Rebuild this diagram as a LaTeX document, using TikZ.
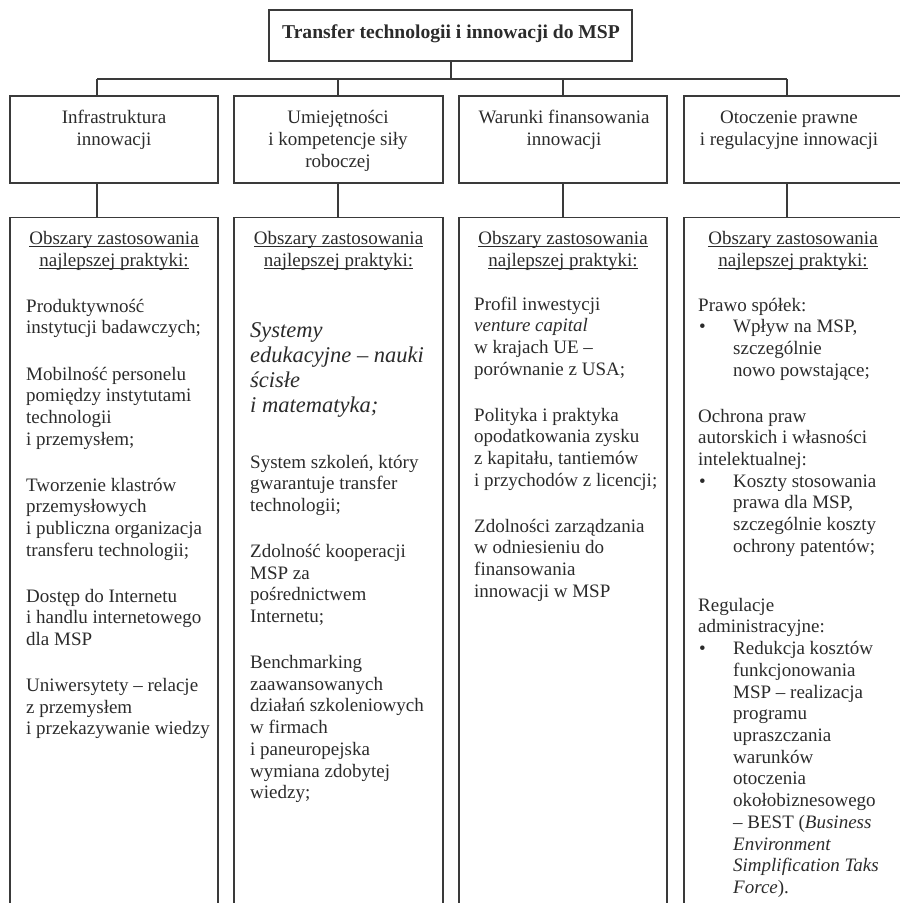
\documentclass[tikz,border=0pt]{standalone}
\usepackage{fontspec}
\setmainfont{Liberation Serif}
\definecolor{ink}{HTML}{2B2B2B}
\definecolor{rulec}{HTML}{3A3A3A}
% underline set just below the baseline, crossing the descenders
\newcommand\ulbase[1]{\setbox0\hbox{#1}\rlap{\rule[-2.6pt]{\wd0}{0.9pt}}\box0}
\begin{document}
\begin{tikzpicture}[x=1pt,y=1pt,
  frame/.style={draw=rulec, line width=1.3pt, rectangle, inner sep=0pt},
  link/.style={draw=rulec, line width=1.3pt},
  body/.style={anchor=base west, inner sep=0pt, align=left, text=ink,
    font=\fontsize{19}{21.7}\selectfont},
  head/.style={anchor=base, inner sep=0pt, align=center, text=ink,
    font=\fontsize{19}{22}\selectfont},
  bigit/.style={body, font=\itshape\fontsize{22.5}{25}\selectfont},
  dot/.style={anchor=base west, inner sep=0pt, text=ink, font=\fontsize{19}{21.7}\selectfont}]
\useasboundingbox (0,0) rectangle (900,-903);
\clip (0,0) rectangle (900,-903);

% multi-line text nodes are placed by the baseline of their last line

% title
\node[frame, minimum width=363pt, minimum height=51pt] (title) at (450.5,-35.5) {};
\node[anchor=base, inner sep=0pt, text=ink, font=\bfseries\fontsize{19.6}{22}\selectfont]
  (titletext) at (451,-38) {Transfer technologii i innowacji do MSP};

% column heads
\node[frame, minimum width=208pt, minimum height=87pt] (h1) at (114,-139.5) {};
\node[frame, minimum width=209pt, minimum height=87pt] (h2) at (338.5,-139.5) {};
\node[frame, minimum width=208pt, minimum height=87pt] (h3) at (563,-139.5) {};
\node[frame, minimum width=218pt, minimum height=87pt] (h4) at (793,-139.5) {};

\node[head] (h1t) at (114,-145) {Infrastruktura\\innowacji};
\node[head] (h2t) at (338,-167) {Umiejętności\\i kompetencje siły\\roboczej};
\node[head] (h3t) at (564,-145) {Warunki finansowania\\innowacji};
\node[head] (h4t) at (789,-145) {Otoczenie prawne\\i regulacyjne innowacji};

% column bodies (open towards the bottom)
\node[frame, minimum width=208pt, minimum height=720pt, anchor=north] (b1) at (114,-217) {};
\node[frame, minimum width=209pt, minimum height=720pt, anchor=north] (b2) at (338.5,-217) {};
\node[frame, minimum width=208pt, minimum height=720pt, anchor=north] (b3) at (563,-217) {};
\node[frame, minimum width=218pt, minimum height=720pt, anchor=north] (b4) at (793,-217) {};

% connectors
\coordinate (busL) at (97,-79);
\coordinate (busR) at (787,-79);
\draw[link] (busL) -- (busR);
\draw[link] (title.south -| titletext) -- (titletext |- busL);
\draw[link] (busL) -- (busL |- h1.north);
\draw[link] (h2.north -| 338,0) -- (338,-79);
\draw[link] (h3.north) -- (h3.north |- busL);
\draw[link] (busR) -- (busR |- h4.north);
\draw[link] (h1.south -| busL) -- (b1.north -| busL);
\draw[link] (h2.south -| 338,0) -- (b2.north -| 338,0);
\draw[link] (h3.south) -- (b3.north);
\draw[link] (h4.south -| busR) -- (b4.north -| busR);

% underlined headings
\node[head] (o1) at (114,-266) {\ulbase{Obszary zastosowania}\\\ulbase{najlepszej praktyki:}};
\node[head] (o2) at (338.5,-266) {\ulbase{Obszary zastosowania}\\\ulbase{najlepszej praktyki:}};
\node[head] (o3) at (563,-266) {\ulbase{Obszary zastosowania}\\\ulbase{najlepszej praktyki:}};
\node[head] (o4) at (793,-266) {\ulbase{Obszary zastosowania}\\\ulbase{najlepszej praktyki:}};

% column 1
\node[body] (c1a) at (26,-333.7) {Produktywność\\instytucji badawczych;};
\node[body] (c1b) at (26,-445.1) {Mobilność personelu\\pomiędzy instytutami\\technologii\\i przemysłem;};
\node[body] (c1c) at (26,-556.1) {Tworzenie klastrów\\przemysłowych\\i publiczna organizacja\\transferu technologii;};
\node[body] (c1d) at (26,-645.4) {Dostęp do Internetu\\i handlu internetowego\\dla MSP};
\node[body] (c1e) at (26,-734.9) {Uniwersytety – relacje\\z przemysłem\\i przekazywanie wiedzy};

% column 2
\node[bigit] (c2a) at (250,-412) {Systemy\\edukacyjne – nauki\\ścisłe\\i matematyka;};
\node[body] (c2b) at (250,-511.4) {System szkoleń, który\\gwarantuje transfer\\technologii;};
\node[body] (c2c) at (250,-622.5) {Zdolność kooperacji\\MSP za\\pośrednictwem\\Internetu;};
\node[body] (c2d) at (250,-798.7) {Benchmarking\\zaawansowanych\\działań szkoleniowych\\w firmach\\i paneuropejska\\wymiana zdobytej\\wiedzy;};

% column 3
\node[body] (c3a) at (474,-375.1) {Profil inwestycji\\\textit{venture capital}\\w krajach UE –\\porównanie z USA;};
\node[body] (c3b) at (474,-486.1) {Polityka i praktyka\\opodatkowania zysku\\z kapitału, tantiemów\\i przychodów z licencji;};
\node[body] (c3c) at (474,-597.1) {Zdolności zarządzania\\w odniesieniu do\\finansowania\\innowacji w MSP};

% column 4
\node[body] (c4a) at (698,-311) {Prawo spółek:};
\node[dot] (d1) at (699,-332.7) {\textbullet};
\node[body] (c4b) at (733,-376.1) {Wpływ na MSP,\\szczególnie\\nowo powstające;};
\node[body] (c4c) at (698,-465.5) {Ochrona praw\\autorskich i własności\\intelektualnej:};
\node[dot] (d2) at (699,-487.2) {\textbullet};
\node[body] (c4d) at (733,-552.3) {Koszty stosowania\\prawa dla MSP,\\szczególnie koszty\\ochrony patentów;};
\node[body] (c4e) at (698,-632.7) {Regulacje\\administracyjne:};
\node[dot] (d3) at (699,-654.7) {\textbullet};
\node[body] (c4f) at (733,-893.4) {Redukcja kosztów\\funkcjonowania\\MSP – realizacja\\programu\\upraszczania\\warunków\\otoczenia\\okołobiznesowego\\– BEST (\textit{Business}\\\textit{Environment}\\\textit{Simplification Taks}\\\textit{Force}).};
\end{tikzpicture}
\end{document}
